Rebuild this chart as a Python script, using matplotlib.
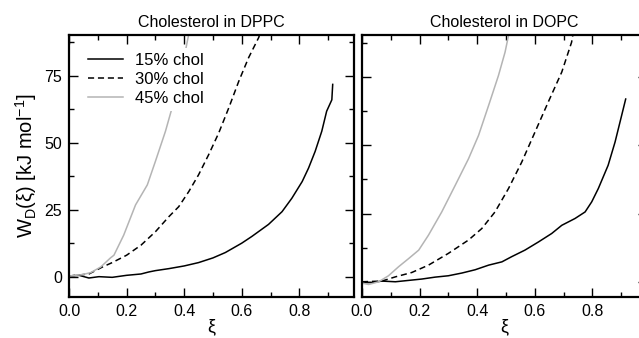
import numpy as np
import matplotlib.pyplot as plt
from matplotlib.ticker import MultipleLocator

plt.rcParams['font.family'] = ['Liberation Sans', 'DejaVu Sans']
plt.rcParams['mathtext.fontset'] = 'custom'
plt.rcParams['mathtext.rm'] = 'Liberation Sans'
plt.rcParams['mathtext.it'] = 'Liberation Sans:italic'

# Data (xi, W_D in kJ/mol)
# --- DPPC ---
dppc15_x = [0.0, 0.035, 0.069, 0.104, 0.15, 0.2, 0.25, 0.277, 0.3, 0.347, 0.4, 0.45, 0.5,
            0.543, 0.6, 0.635, 0.693, 0.74, 0.774, 0.81, 0.832, 0.855, 0.878, 0.895, 0.913, 0.916]
dppc15_y = [0.25, 0.5, -0.5, 0.0, -0.25, 0.5, 1.0, 1.75, 2.25, 3.0, 4.0, 5.25, 7.0,
            9.0, 12.5, 15.0, 19.5, 24.25, 29.25, 35.5, 40.5, 46.75, 54.25, 61.75, 66.0, 71.75]
dppc30_x = [0.0, 0.069, 0.116, 0.15, 0.2, 0.25, 0.3, 0.347, 0.381, 0.416, 0.45, 0.485,
            0.52, 0.555, 0.59, 0.624, 0.659, 0.67]
dppc30_y = [0.25, 1.0, 3.6, 5.25, 8.0, 11.75, 16.75, 22.4, 26.1, 31.75, 38.0, 45.5,
            53.6, 63.0, 73.0, 81.75, 89.25, 93.0]
dppc45_x = [0.0, 0.046, 0.075, 0.11, 0.144, 0.156, 0.19, 0.231, 0.272, 0.3, 0.335, 0.358,
            0.381, 0.416, 0.43]
dppc45_y = [0.25, 0.75, 1.5, 3.6, 7.0, 8.0, 15.5, 26.75, 34.25, 43.0, 54.25, 63.0,
            71.75, 90.5, 98.0]
# --- DOPC ---
dopc15_x = [0.0, 0.035, 0.069, 0.116, 0.162, 0.208, 0.254, 0.3, 0.347, 0.393, 0.44, 0.486,
            0.52, 0.566, 0.613, 0.659, 0.694, 0.74, 0.775, 0.798, 0.821, 0.855, 0.879, 0.902, 0.916]
dopc15_y = [-0.25, -0.25, 0.25, 0.0, 0.5, 1.0, 1.7, 2.2, 3.2, 4.4, 6.1, 7.3,
            9.2, 11.6, 14.6, 17.7, 20.7, 23.2, 25.6, 29.3, 34.2, 42.7, 51.2, 61.0, 67.0]
dopc30_x = [0.0, 0.069, 0.116, 0.173, 0.231, 0.3, 0.37, 0.416, 0.462, 0.509, 0.555, 0.601,
            0.647, 0.694, 0.728, 0.74]
dopc30_y = [0.0, 0.25, 1.8, 3.4, 6.1, 10.4, 15.3, 19.5, 25.6, 34.2, 43.9, 54.9,
            65.9, 76.9, 87.8, 95.0]
dopc45_x = [0.0, 0.023, 0.058, 0.092, 0.127, 0.162, 0.197, 0.231, 0.277, 0.324, 0.37, 0.405,
            0.44, 0.474, 0.497, 0.509, 0.52]
dopc45_y = [-0.5, -1.0, 0.0, 2.2, 5.5, 8.5, 11.6, 17.1, 25.6, 35.4, 45.1, 53.7,
            64.7, 75.6, 84.2, 90.3, 97.0]

labels = ['15% chol', '30% chol', '45% chol']
titles = ['Cholesterol in DPPC', 'Cholesterol in DOPC']
gray = '#b4b4b4'

fig = plt.figure(figsize=(6.39, 3.38), dpi=100)
ax1 = fig.add_axes([0.108, 0.122, 0.446, 0.773])
ax2 = fig.add_axes([0.5665, 0.122, 0.446, 0.773])

def style(ax, ylim):
    ax.set_xlim(0, 0.99)
    ax.set_ylim(*ylim)
    ax.xaxis.set_major_locator(MultipleLocator(0.2))
    ax.xaxis.set_minor_locator(MultipleLocator(0.1))
    ax.yaxis.set_major_locator(MultipleLocator(25))
    ax.yaxis.set_minor_locator(MultipleLocator(12.5))
    ax.tick_params(which='both', direction='in', top=True, right=True, width=1.0,
                   labelsize=11.5, pad=5)
    ax.tick_params(which='major', length=6.5)
    ax.tick_params(which='minor', length=3.5)
    for s in ax.spines.values():
        s.set_linewidth(1.6)
    ax.set_xticks([0.0, 0.2, 0.4, 0.6, 0.8])
    ax.set_xticklabels(['0.0', '0.2', '0.4', '0.6', '0.8'])
    ax.set_xlabel('ξ', fontsize=13, labelpad=0)

# left panel
ax1.plot(dppc15_x, dppc15_y, color='black', lw=1.1, label=labels[0])
ax1.plot(dppc30_x, dppc30_y, color='black', lw=1.1, ls=(0, (4, 2.5)), label=labels[1])
ax1.plot(dppc45_x, dppc45_y, color=gray, lw=1.1, label=labels[2])
style(ax1, (-7.5, 90))
ax1.set_yticks([0, 25, 50, 75])
ax1.set_ylabel(r'W$_\mathrm{D}$(ξ) [kJ mol$^{-1}$]', fontsize=14.5, labelpad=4)
ax1.set_title(titles[0], fontsize=11.5, pad=6)
leg = ax1.legend(loc='upper left', bbox_to_anchor=(0.02, 0.985), fontsize=12,
                 handlelength=2.1, handletextpad=0.7, labelspacing=0.25,
                 borderpad=0.3, frameon=True, fancybox=False)
leg.get_frame().set_edgecolor('none')
leg.get_frame().set_facecolor('white')
leg.get_frame().set_alpha(1)

# right panel
ax2.plot(dopc15_x, dopc15_y, color='black', lw=1.1)
ax2.plot(dopc30_x, dopc30_y, color='black', lw=1.1, ls=(0, (4, 2.5)))
ax2.plot(dopc45_x, dopc45_y, color=gray, lw=1.1)
style(ax2, (-5.5, 90.3))
ax2.tick_params(labelleft=False)
ax2.set_title(titles[1], fontsize=11.5, pad=6)

fig.savefig('out.png', dpi=100)
